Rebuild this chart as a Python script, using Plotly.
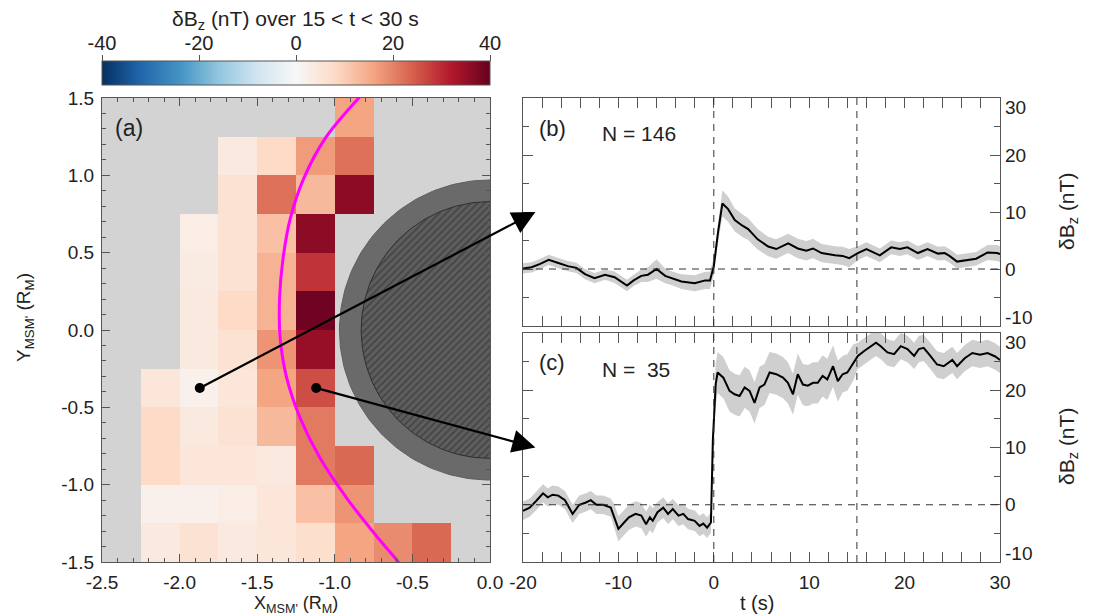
import numpy as np
import plotly.graph_objects as go

# ---------------- data ----------------
# (a) binned map of dBz (nT), 0.25 x 0.25 R_M bins
x_edges = [-2.5, -2.25, -2.0, -1.75, -1.5, -1.25, -1.0, -0.75, -0.5, -0.25, 0.0]
y_edges = [-1.5, -1.25, -1.0, -0.75, -0.5, -0.25, 0.0, 0.25, 0.5, 0.75, 1.0, 1.25, 1.5]
N = None
dbz_grid = [  # rows from y=-1.5 upward, columns from x=-2.5 rightward
    [N, 4, 6, 4, 5, 7, 16, 19, 23, N],
    [N, 2, 2, 3, 5, 12, 18, N, N, N],
    [N, 8, 5, 5, 4, 21, 23, N, N, N],
    [N, 8, 4, 6, 13, 21, N, N, N, N],
    [N, 5, 2, 5, 16, 26, N, N, N, N],
    [N, N, 4, 6, 18, 35, N, N, N, N],
    [N, N, 4, 8, 14, 39, N, N, N, N],
    [N, N, 3.5, 6, 14, 29, N, N, N, N],
    [N, N, 3, 6, 12, 36, N, N, N, N],
    [N, N, N, 6, 22, 13, 36, N, N, N],
    [N, N, N, 4, 8, 17, 22, N, N, N],
    [N, N, N, N, N, N, 16, N, N, N],
]
# model boundary (magenta)
mp_x = [-0.55, -0.599, -0.717, -0.921, -1.094, -1.223, -1.31, -1.352, -1.356,
        -1.334, -1.287, -1.20, -1.061, -0.846, -0.80]
mp_y = [-1.56, -1.49, -1.35, -1.09, -0.83, -0.57, -0.31, -0.053, 0.205,
        0.46, 0.72, 0.98, 1.24, 1.5, 1.55]
# selected bins
sel_x = [-1.87, -1.12]
sel_y = [-0.375, -0.375]
planet_r_outer = 0.97
planet_r_inner = 0.83

# tick labels
xa_ticks = [-2.5, -2.0, -1.5, -1.0, -0.5, 0.0]
xa_text = ["-2.5", "-2.0", "-1.5", "-1.0", "-0.5", "0.0"]
ya_ticks = [-1.5, -1.0, -0.5, 0.0, 0.5, 1.0, 1.5]
ya_text = ["-1.5", "-1.0", "-0.5", "0.0", "0.5", "1.0", "1.5"]
t_ticks = [-20, -10, 0, 10, 20, 30]
t_text = ["-20", "-10", "0", "10", "20", "30"]
bz_ticks = [-10, 0, 10, 20, 30]
bz_text = ["-10", "0", "10", "20", "30"]
cbar_ticks = [-40, -20, 0, 20, 40]
cbar_text = ["-40", "-20", "0", "20", "40"]

# (b) superposed epoch, N = 146
tb = [-20.0, -19.1, -18.2, -17.3, -16.3, -15.3, -14.4, -13.5, -12.5, -11.4,
      -10.4, -9.1, -8.4, -7.6, -6.9, -6.0, -5.1, -4.3, -3.4, -2.0,
      -0.9, -0.4, 0.0, 0.45, 0.9, 1.5, 2.2, 3.0, 3.6, 4.6,
      5.7, 6.55, 7.8, 8.8, 9.7, 10.4, 11.3, 12.7, 13.5, 14.2,
      15.1, 16.0, 17.4, 18.6, 19.5, 20.3, 21.4, 22.4, 23.5, 24.2,
      24.7, 25.5, 26.7, 27.5, 28.7, 29.7, 30.0]
bzb = [0.1, 0.3, 0.9, 1.6, 1.05, 0.5, 0.2, -0.9, -1.6, -1.0,
       -1.45, -2.9, -2.0, -1.2, -1.0, 0.0, -1.2, -1.7, -2.2, -2.5,
       -2.0, -2.0, 0.5, 6.5, 11.5, 10.5, 8.6, 7.6, 7.0, 5.2,
       3.95, 3.5, 4.5, 3.6, 3.2, 3.6, 2.8, 2.4, 2.3, 1.9,
       2.8, 3.5, 2.4, 3.8, 3.5, 3.8, 2.8, 3.5, 2.7, 2.8,
       2.3, 1.3, 1.6, 1.8, 2.9, 2.8, 2.6]
errb = [0.9, 0.9, 0.9, 0.9, 0.9, 0.9, 0.9, 0.9, 0.9, 0.9,
        1.0, 1.0, 1.0, 1.1, 1.3, 1.7, 1.3, 1.2, 1.3, 1.4,
        1.5, 1.5, 1.6, 1.9, 2.3, 2.2, 2.0, 2.0, 1.9, 1.8,
        1.7, 1.7, 1.7, 1.7, 1.7, 1.7, 1.6, 1.6, 1.6, 1.6,
        1.2, 1.2, 1.2, 1.2, 1.2, 1.2, 1.2, 1.2, 1.2, 1.2,
        1.2, 1.2, 1.2, 1.2, 1.3, 1.4, 1.4]

# (c) superposed epoch, N = 35
tc = [-20.0, -19.3, -18.6, -17.9, -17.4, -16.9, -16.3, -15.6, -14.8, -14.1,
      -13.4, -12.9, -12.3, -11.6, -10.8, -10.4, -10.0, -9.4, -8.9, -8.2,
      -7.6, -7.1, -6.7, -6.4, -5.9, -5.3, -4.8, -4.3, -3.7, -3.2,
      -2.7, -2.0, -1.5, -1.1, -0.7, -0.3, -0.1, 0.2, 0.4, 1.0,
      1.65, 2.18, 2.7, 3.23, 3.75, 4.27, 4.8, 5.3, 5.85, 6.55,
      7.25, 7.77, 8.3, 8.8, 9.34, 9.86, 10.4, 10.9, 11.4, 11.9,
      12.5, 13.0, 13.5, 14.0, 14.6, 15.1, 15.8, 16.5, 17.0, 17.5,
      18.2, 18.9, 19.6, 20.3, 21.0, 21.5, 22.0, 22.7, 23.4, 24.1,
      25.0, 25.5, 26.3, 27.1, 27.9, 28.7, 29.5, 30.0]
bzc = [-1.05, -0.5, 0.7, 2.0, 1.3, 1.75, 1.6, 0.8, -1.6, 0.0,
       0.4, 0.8, 0.0, 0.0, -0.5, -2.2, -4.2, -3.1, -2.2, -1.6,
       -1.9, -3.4, -2.2, -2.8, -1.3, -0.5, -1.6, -0.75, -1.9, -1.6,
       -2.5, -2.8, -3.7, -3.3, -4.0, -3.1, 11.2, 21.1, 23.1, 22.2,
       19.9, 19.3, 19.0, 20.5, 19.9, 17.8, 20.5, 21.0, 23.1, 22.8,
       22.2, 21.3, 19.3, 22.8, 21.0, 20.8, 21.3, 21.3, 22.5, 21.9,
       24.2, 21.6, 22.8, 23.1, 24.8, 26.0, 26.9, 27.7, 28.3, 27.7,
       26.6, 26.3, 27.7, 27.2, 26.0, 27.2, 27.4, 26.0, 24.5, 24.2,
       25.3, 24.2, 25.6, 26.5, 26.2, 26.5, 25.9, 25.3]
errc = [1.6, 1.6, 1.6, 1.6, 1.6, 1.6, 1.6, 1.6, 1.6, 1.6,
        1.6, 1.6, 1.6, 1.6, 1.6, 2.2, 2.2, 2.2, 2.2, 2.2,
        2.2, 2.2, 2.2, 2.2, 1.8, 1.8, 1.8, 1.8, 1.8, 1.8,
        1.8, 1.8, 1.8, 1.8, 1.8, 1.8, 2.5, 3.6, 3.6, 3.6,
        3.6, 3.6, 3.6, 3.6, 3.6, 3.6, 3.6, 3.6, 3.6, 3.6,
        3.6, 3.6, 3.6, 3.6, 3.6, 3.6, 3.6, 3.6, 3.6, 3.6,
        3.6, 3.6, 3.2, 3.2, 3.2, 2.3, 2.3, 2.3, 2.3, 2.3,
        2.3, 2.3, 2.3, 2.3, 2.3, 2.3, 2.3, 2.3, 2.3, 2.3,
        2.3, 2.3, 2.3, 2.3, 2.3, 2.3, 2.3, 2.3]

epoch_marks = [0, 15]
arrow_t, arrow_bz = -18.7, 10.0

# ---------------- layout helpers ----------------
W, H = 1093, 615
FONT = "Liberation Sans, Arial, Helvetica, sans-serif"
TXT = "#222222"
AX = "#555555"


def dom_x(a, b):
    return [a / W, b / W]


def dom_y(top, bottom):
    return [1 - bottom / H, 1 - top / H]


XA_DOM, YA_DOM = dom_x(102, 490), dom_y(98, 562)
XB_DOM, YB_DOM, YC_DOM = dom_x(523, 1000), dom_y(98, 326), dom_y(333, 562)
CB_YDOM = dom_y(62, 86)
XA_R, YA_R, T_R, BZ_R = [-2.5, 0.0], [-1.5, 1.5], [-20, 30], [-10, 30]


def to_px(xv, yv, xdom, ydom, xr, yr):
    px = (xdom[0] + (xv - xr[0]) / (xr[1] - xr[0]) * (xdom[1] - xdom[0])) * W
    py = (1 - (ydom[0] + (yv - yr[0]) / (yr[1] - yr[0]) * (ydom[1] - ydom[0]))) * H
    return px, py


def inset_labels(ticks, rng, ydom, inset_px=9):
    """Label positions with the two end labels pulled inside the frame (as in the original)."""
    s = inset_px / ((ydom[1] - ydom[0]) * H / (rng[1] - rng[0]))
    return [v + s if v == rng[0] else (v - s if v == rng[1] else v) for v in ticks]


rdbu = [[0.0, '#053061'], [0.1, '#2166ac'], [0.2, '#4393c3'], [0.3, '#92c5de'],
        [0.4, '#d1e5f0'], [0.5, '#f7f7f7'], [0.6, '#fddbc7'], [0.7, '#f4a582'],
        [0.8, '#d6604d'], [0.9, '#b2182b'], [1.0, '#67001f']]

fig = go.Figure()

# ---------------- panel (a) ----------------
fig.add_trace(go.Heatmap(
    x=x_edges, y=y_edges, z=dbz_grid, colorscale=rdbu, zmin=-40, zmax=40,
    xaxis='x', yaxis='y', hoverongaps=False,
    colorbar=dict(orientation='h', x=(XA_DOM[0] + XA_DOM[1]) / 2, xanchor='center',
                  len=XA_DOM[1] - XA_DOM[0], lenmode='fraction',
                  thickness=24, thicknessmode='pixels',
                  y=CB_YDOM[0], yanchor='bottom', xpad=0, ypad=0,
                  ticks='', showticklabels=False,
                  outlinewidth=1, outlinecolor=AX)))

th = np.linspace(0, 2 * np.pi, 241)
fig.add_trace(go.Scatter(x=planet_r_outer * np.cos(th), y=planet_r_outer * np.sin(th),
                         mode='lines', fill='toself', fillcolor='#6a6a6a',
                         line=dict(color='#5e5e5e', width=1), xaxis='x', yaxis='y',
                         hoverinfo='skip', showlegend=False))
fig.add_trace(go.Scatter(x=planet_r_inner * np.cos(th), y=planet_r_inner * np.sin(th),
                         mode='lines', fill='toself', fillcolor='#555555',
                         fillpattern=dict(shape='/', fgcolor='#2c2c2c', bgcolor='#5e5e5e',
                                          size=5, solidity=0.35),
                         line=dict(color='#2e2e2e', width=1), xaxis='x', yaxis='y',
                         hoverinfo='skip', showlegend=False))
fig.add_trace(go.Scatter(x=mp_x, y=mp_y, mode='lines', line=dict(color='#ff00ff', width=3, shape='spline'),
                         xaxis='x', yaxis='y', showlegend=False))
fig.add_trace(go.Scatter(x=sel_x, y=sel_y, mode='markers', marker=dict(color='black', size=10),
                         xaxis='x', yaxis='y', showlegend=False))

# ---------------- panels (b), (c) ----------------
for t, bz, er, xa, ya in [(tb, bzb, errb, 'x2', 'y2'), (tc, bzc, errc, 'x3', 'y3')]:
    up = [v + e for v, e in zip(bz, er)]
    lo = [v - e for v, e in zip(bz, er)]
    fig.add_trace(go.Scatter(x=t, y=up, mode='lines', line=dict(width=0, color='#cfcfcf'),
                             xaxis=xa, yaxis=ya, showlegend=False, hoverinfo='skip'))
    fig.add_trace(go.Scatter(x=t, y=lo, mode='lines', line=dict(width=0, color='#cfcfcf'),
                             fill='tonexty', fillcolor='#cfcfcf',
                             xaxis=xa, yaxis=ya, showlegend=False, hoverinfo='skip'))
    fig.add_trace(go.Scatter(x=t, y=bz, mode='lines', line=dict(color='black', width=2),
                             xaxis=xa, yaxis=ya, showlegend=False))

# helper (empty) traces for the colorbar label axis and the right-hand label axes
fig.add_trace(go.Scatter(x=[None], y=[None], xaxis='x4', yaxis='y4', showlegend=False))
fig.add_trace(go.Scatter(x=[None], y=[None], xaxis='x2', yaxis='y5', showlegend=False))
fig.add_trace(go.Scatter(x=[None], y=[None], xaxis='x3', yaxis='y6', showlegend=False))

# ---------------- axes ----------------
tickfont = dict(family=FONT, size=19, color=TXT)
common = dict(showgrid=False, zeroline=False, showline=True, linecolor=AX, linewidth=1.3,
              mirror='allticks', ticks='inside', tickcolor=AX, tickwidth=1.2, tickfont=tickfont,
              ticklabelstandoff=3, automargin=False)
label_axis = dict(showgrid=False, zeroline=False, showline=False, ticks='', side='right',
                  range=BZ_R, ticktext=bz_text, tickfont=tickfont, ticklabelstandoff=4,
                  automargin=False)

fig.update_layout(
    xaxis=dict(domain=XA_DOM, range=XA_R, anchor='y', tickvals=xa_ticks, ticktext=xa_text,
               ticklen=8, minor=dict(dtick=0.1, tick0=0, ticks='inside', ticklen=4, tickcolor=AX),
               **common),
    yaxis=dict(domain=YA_DOM, range=YA_R, anchor='x', tickvals=ya_ticks, ticktext=ya_text,
               ticklen=8, minor=dict(dtick=0.1, tick0=0, ticks='inside', ticklen=4, tickcolor=AX),
               **common),
    xaxis2=dict(domain=XB_DOM, range=T_R, anchor='y2', tickvals=t_ticks, showticklabels=False,
                ticklen=10, minor=dict(dtick=2, tick0=0, ticks='inside', ticklen=6, tickcolor=AX),
                **common),
    yaxis2=dict(domain=YB_DOM, range=BZ_R, anchor='x2', side='right', tickvals=bz_ticks,
                showticklabels=False, ticklen=10,
                minor=dict(dtick=5, tick0=0, ticks='inside', ticklen=6, tickcolor=AX), **common),
    xaxis3=dict(domain=XB_DOM, range=T_R, anchor='y3', tickvals=t_ticks, ticktext=t_text,
                ticklen=10, minor=dict(dtick=2, tick0=0, ticks='inside', ticklen=6, tickcolor=AX),
                **common),
    yaxis3=dict(domain=YC_DOM, range=BZ_R, anchor='x3', side='right', tickvals=bz_ticks,
                showticklabels=False, ticklen=10,
                minor=dict(dtick=5, tick0=0, ticks='inside', ticklen=6, tickcolor=AX), **common),
    yaxis5=dict(overlaying='y2', anchor='x2', tickvals=inset_labels(bz_ticks, BZ_R, YB_DOM),
                **label_axis),
    yaxis6=dict(overlaying='y3', anchor='x3', tickvals=inset_labels(bz_ticks, BZ_R, YC_DOM),
                **label_axis),
    xaxis4=dict(domain=XA_DOM, range=[-40, 40], anchor='y4', side='top', tickvals=cbar_ticks,
                ticktext=cbar_text, ticks='outside', ticklen=6, tickcolor=AX, showgrid=False,
                zeroline=False, showline=False, automargin=False, ticklabelstandoff=-3,
                tickfont=dict(family=FONT, size=20, color=TXT)),
    yaxis4=dict(domain=CB_YDOM, range=[0, 1], anchor='x4', visible=False),
    width=W, height=H, margin=dict(l=0, r=0, t=0, b=0, autoexpand=False),
    paper_bgcolor='white', plot_bgcolor='white', showlegend=False,
    font=dict(family=FONT, size=18, color=TXT),
)

shapes = [dict(type='rect', xref='x domain', yref='y domain', x0=0, x1=1, y0=0, y1=1,
               fillcolor='#d3d3d3', line=dict(width=0), layer='below')]
for xa, ya in [('x2', 'y2'), ('x3', 'y3')]:
    for tm in epoch_marks:
        shapes.append(dict(type='line', xref=xa, yref=ya + ' domain', x0=tm, x1=tm, y0=0, y1=1,
                           line=dict(color='#333333', width=1, dash='7px,6px')))
    shapes.append(dict(type='line', xref=xa + ' domain', yref=ya, x0=0, x1=1, y0=0, y1=0,
                       line=dict(color='#333333', width=1, dash='7px,6px')))
fig.update_layout(shapes=shapes)

ann = []


def label(text, px, py, size=18, angle=0, xanchor='center'):
    ann.append(dict(text=text, x=px / W, y=1 - py / H, xref='paper', yref='paper',
                    showarrow=False, textangle=angle, xanchor=xanchor, yanchor='middle',
                    font=dict(family=FONT, size=size, color=TXT)))


label("δB<sub>z</sub> (nT) over 15 &lt; t &lt; 30 s", 295, 20, 21)
label("Y<sub>MSM'</sub> (R<sub>M</sub>)", 25, 318, 19, -90)
label("X<sub>MSM'</sub> (R<sub>M</sub>)", 296, 604, 18)
label("t (s)", 757, 603, 20)
label("δB<sub>z</sub> (nT)", 1068, 212, 21, -90)
label("δB<sub>z</sub> (nT)", 1068, 447, 21, -90)
label("(a)", 129, 128, 23)
label("(b)", 552, 128, 22)
label("N = 146", 600, 133, 21, xanchor='left')
label("(c)", 552, 362, 22)
label("N =\u00a0 35", 600, 369, 21, xanchor='left')

# arrows from selected bins to the time series panels
for (sx, sy), ydom, xa, ya in [((sel_x[0], sel_y[0]), YB_DOM, 'x2', 'y2'),
                              ((sel_x[1], sel_y[1]), YC_DOM, 'x3', 'y3')]:
    tx, ty = to_px(sx, sy, XA_DOM, YA_DOM, XA_R, YA_R)
    hx, hy = to_px(arrow_t, arrow_bz, XB_DOM, ydom, T_R, BZ_R)
    ann.append(dict(x=arrow_t, y=arrow_bz, xref=xa, yref=ya, ax=tx - hx, ay=ty - hy,
                    axref='pixel', ayref='pixel', text='', showarrow=True,
                    arrowhead=2, arrowsize=2.1, arrowwidth=2.2, arrowcolor='black', standoff=0))

fig.update_layout(annotations=ann)
fig.write_html("out.html")
